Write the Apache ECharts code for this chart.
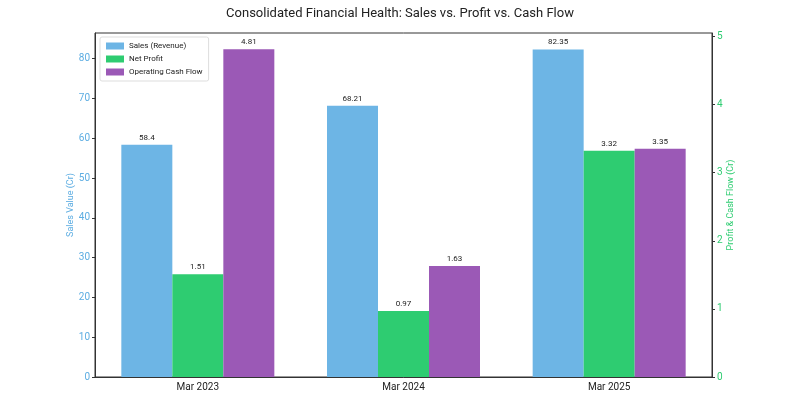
<!DOCTYPE html>
<html>
<head>
<meta charset="utf-8">
<script src="https://cdn.jsdelivr.net/npm/echarts@6/dist/echarts.min.js"></script>
<style>
    html, body { margin: 0; padding: 0; background: #fff; }
    #chart { width: 800px; height: 400px; }
</style>
</head>
<body>
<div id="chart"></div>
<script>
var years = ['Mar 2023', 'Mar 2024', 'Mar 2025'];
var sales = [58.4, 68.21, 82.35];
var netProfit = [1.51, 0.97, 3.32];
var cashFlow = [4.81, 1.63, 3.35];

var font = 'Roboto, "Noto Sans", sans-serif';

function barLabel() {
    return {
        show: true,
        position: 'top',
        distance: 3,
        color: '#222',
        fontSize: 8,
        fontFamily: font
    };
}

var myChart = echarts.init(document.getElementById('chart'));

var option = {
    animation: false,
    textStyle: { fontFamily: font },
    title: {
        text: 'Consolidated Financial Health: Sales vs. Profit vs. Cash Flow',
        left: 'center',
        top: 2,
        textStyle: { fontSize: 13, fontWeight: 'normal', color: '#222', fontFamily: font }
    },
    legend: {
        orient: 'vertical',
        left: 100,
        top: 37,
        itemWidth: 18,
        itemHeight: 7,
        itemGap: 5,
        padding: [5, 6],
        borderColor: '#ddd',
        borderWidth: 1,
        borderRadius: 2,
        backgroundColor: '#fff',
        textStyle: { fontSize: 8, color: '#222', fontFamily: font },
        data: [
            { name: 'Sales (Revenue)', icon: 'rect' },
            { name: 'Net Profit', icon: 'rect' },
            { name: 'Operating Cash Flow', icon: 'rect' }
        ]
    },
    grid: {
        left: 95, right: 88, top: 33, bottom: 23,
        show: true,
        borderColor: '#333',
        borderWidth: 1
    },
    xAxis: {
        type: 'category',
        data: years,
        axisLine: { lineStyle: { color: '#333' } },
        axisTick: { alignWithLabel: true, length: 3, lineStyle: { color: '#333' } },
        axisLabel: { fontSize: 10, color: '#222', margin: 5 }
    },
    yAxis: [{
        type: 'value',
        min: 0,
        max: 86.47,
        interval: 10,
        name: 'Sales Value (Cr)',
        nameLocation: 'middle',
        nameGap: 20,
        nameMoveOverlap: false,
        nameTextStyle: { color: '#5dade2', fontSize: 9 },
        axisLine: { show: true, lineStyle: { color: '#333' } },
        axisTick: { show: true, length: 3, lineStyle: { color: '#333' } },
        axisLabel: { color: '#5dade2', fontSize: 10, margin: 5, showMaxLabel: false },
        splitLine: { show: false }
    }, {
        type: 'value',
        min: 0,
        max: 5.05,
        interval: 1,
        name: 'Profit & Cash Flow (Cr)',
        nameLocation: 'middle',
        nameGap: 14,
        nameMoveOverlap: false,
        nameTextStyle: { color: '#2ecc71', fontSize: 9 },
        axisLine: { show: true, lineStyle: { color: '#333' } },
        axisTick: { show: true, length: 3, lineStyle: { color: '#333' } },
        axisLabel: { color: '#2ecc71', fontSize: 10, margin: 5, showMaxLabel: false },
        splitLine: { show: false }
    }],
    series: [{
        name: 'Sales (Revenue)',
        type: 'bar',
        yAxisIndex: 0,
        barWidth: 51,
        barGap: '0%',
        data: sales,
        itemStyle: { color: '#6db5e5' },
        label: barLabel()
    }, {
        name: 'Net Profit',
        type: 'bar',
        yAxisIndex: 1,
        barWidth: 51,
        barGap: '0%',
        data: netProfit,
        itemStyle: { color: '#2ecc71' },
        label: barLabel()
    }, {
        name: 'Operating Cash Flow',
        type: 'bar',
        yAxisIndex: 1,
        barWidth: 51,
        barGap: '0%',
        data: cashFlow,
        itemStyle: { color: '#9b59b6' },
        label: barLabel()
    }]
};

myChart.setOption(option);
</script>
</body>
</html>
